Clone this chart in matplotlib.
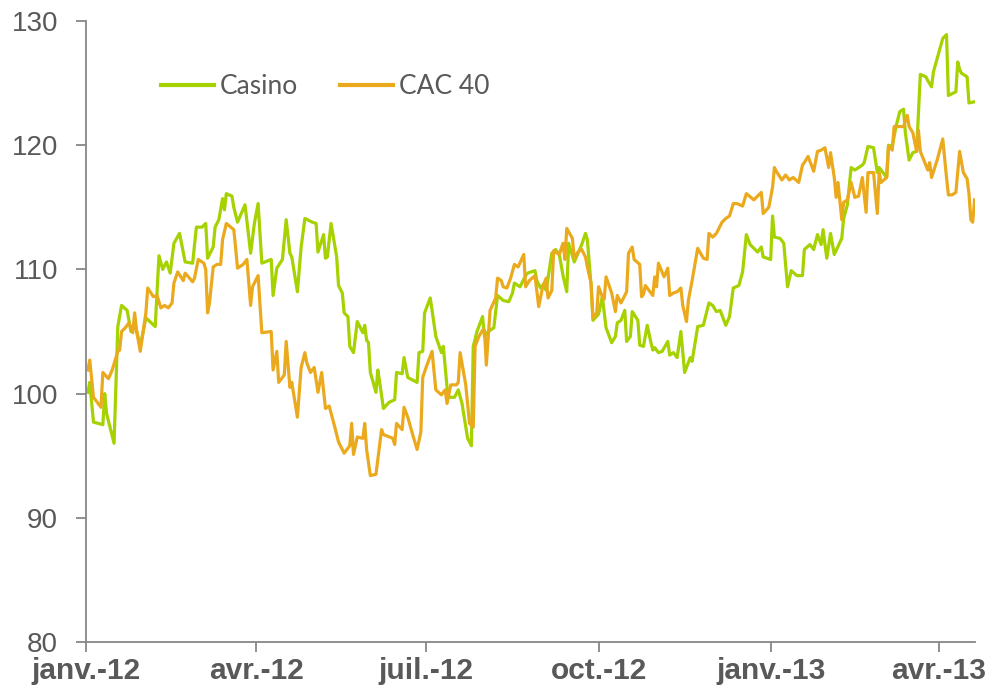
import pandas as pd
import matplotlib
matplotlib.use("Agg")
import matplotlib.pyplot as plt

plt.rcParams["font.family"] = ["Liberation Sans", "DejaVu Sans"]

# base 100 comparison, days counted from 1 Jan 2012
start = pd.Timestamp("2012-01-01")

casino_days = [1, 2, 4, 9, 10, 11, 15, 17, 19, 22, 24, 26, 29, 32, 37, 39, 41, 43, 45, 47,
               50, 53, 57, 59, 62, 64, 65, 68, 69, 71, 73, 74, 75, 78, 79, 81, 85, 88, 90, 92,
               94, 99, 100, 102, 105, 107, 109, 110, 113, 115, 117, 121, 123, 124, 127, 128, 129, 131, 134, 135,
               137, 138, 140, 141, 143, 145, 148, 149, 150, 151, 152, 155, 156, 157, 159, 162, 165, 166, 169, 170,
               172, 177, 178, 180, 181, 184, 185, 187, 190, 191, 193, 194, 197, 199, 201, 204, 206, 207, 209, 212,
               213, 215, 218, 220, 223, 226, 228, 229, 232, 235, 236, 240, 241, 243, 245, 246, 249, 251, 253, 255,
               257, 258, 261, 265, 267, 268, 270, 271, 274, 276, 278, 281, 283, 284, 286, 288, 289, 291, 292, 295,
               296, 298, 300, 302, 303, 304, 306, 308, 311, 312, 314, 316, 318, 320, 323, 324, 327, 330, 333, 335,
               337, 339, 342, 344, 346, 349, 351, 353, 355, 359, 361, 362, 366, 367, 368, 371, 373, 375, 377, 380,
               383, 384, 387, 389, 391, 393, 394, 396, 398, 400, 404, 405, 407, 409, 411, 415, 416, 418, 421, 423,
               424, 428, 429, 431, 433, 435, 437, 438, 440, 442, 444, 446, 449, 450, 452, 453, 458, 460, 461, 465,
               466, 467, 468, 471, 472, 475]
casino_values = [100.1, 100.9, 97.7, 97.5, 100.0, 98.4, 96.0, 105.4, 107.1, 106.7, 105.0, 105.7, 103.8, 106.1, 105.4, 111.1, 110.0, 110.6, 109.7, 112.1,
                 112.9, 110.6, 110.5, 113.4, 113.4, 113.7, 110.9, 111.8, 113.4, 114.0, 115.7, 114.8, 116.1, 115.9, 115.0, 113.8, 115.2, 111.3, 113.7, 115.3,
                 110.5, 110.8, 107.9, 110.1, 110.8, 114.0, 111.3, 111.0, 108.2, 111.8, 114.1, 113.8, 113.7, 111.4, 112.8, 110.9, 111.0, 113.7, 111.0, 108.7,
                 108.1, 106.5, 106.2, 103.8, 103.3, 105.8, 104.9, 105.5, 104.3, 104.1, 101.7, 100.1, 101.9, 100.9, 98.8, 99.3, 99.5, 101.7, 101.6, 102.9,
                 101.3, 100.9, 103.3, 103.4, 106.5, 107.7, 106.7, 104.6, 103.3, 103.8, 100.5, 99.7, 99.7, 100.3, 99.2, 96.4, 95.8, 103.8, 105.0, 106.2,
                 104.6, 105.0, 105.3, 107.9, 107.5, 107.4, 108.1, 108.9, 108.6, 109.5, 109.7, 109.9, 109.1, 108.5, 108.9, 108.3, 111.3, 111.6, 111.2, 109.5,
                 108.2, 112.1, 110.6, 112.0, 112.9, 112.4, 108.7, 105.9, 106.4, 107.8, 105.3, 104.1, 104.6, 105.7, 105.9, 106.7, 104.2, 104.6, 106.6, 105.9,
                 103.9, 103.8, 105.5, 104.1, 103.5, 103.7, 103.3, 103.4, 104.2, 103.1, 103.3, 102.9, 105.0, 101.7, 102.9, 102.6, 105.4, 105.5, 107.3, 107.1,
                 106.6, 106.7, 105.5, 106.2, 108.5, 108.7, 109.8, 112.8, 112.0, 111.4, 111.8, 111.0, 110.8, 114.3, 112.6, 112.5, 112.1, 108.6, 109.9, 109.5,
                 109.5, 111.6, 112.0, 111.6, 112.8, 112.0, 113.2, 110.9, 112.9, 111.2, 112.5, 114.1, 115.2, 118.2, 118.0, 118.4, 118.6, 119.9, 119.8, 117.8,
                 118.2, 117.4, 120.0, 119.9, 121.5, 122.7, 122.9, 121.0, 118.8, 119.4, 119.5, 125.7, 125.5, 125.2, 124.7, 125.9, 128.6, 128.9, 124.0, 124.3,
                 126.7, 126.1, 125.8, 125.5, 123.4, 123.5]

cac_days = [1, 2, 4, 8, 9, 12, 14, 17, 18, 19, 21, 23, 25, 26, 27, 29, 32, 33, 36, 38,
            40, 42, 44, 46, 47, 49, 52, 53, 57, 58, 60, 63, 64, 65, 66, 68, 70, 72, 73, 75,
            79, 80, 81, 84, 86, 88, 89, 92, 94, 99, 100, 102, 103, 106, 107, 109, 110, 113, 115, 117,
            118, 120, 122, 124, 126, 128, 130, 133, 135, 138, 141, 142, 143, 145, 148, 149, 150, 152, 155, 158,
            159, 164, 165, 166, 169, 170, 172, 175, 177, 179, 180, 182, 185, 187, 190, 192, 193, 195, 198, 199,
            200, 203, 205, 207, 208, 210, 212, 213, 214, 216, 219, 220, 222, 223, 225, 227, 229, 231, 234, 235,
            237, 240, 242, 244, 246, 247, 249, 250, 253, 255, 256, 257, 260, 261, 263, 265, 267, 268, 270, 271,
            273, 274, 276, 277, 278, 281, 283, 284, 286, 289, 290, 292, 293, 296, 297, 298, 299, 303, 304, 305,
            306, 309, 311, 312, 314, 316, 318, 319, 321, 322, 324, 327, 330, 332, 333, 335, 337, 340, 342, 344,
            346, 348, 351, 353, 357, 359, 361, 362, 365, 367, 368, 369, 372, 374, 376, 378, 381, 383, 384, 386,
            389, 391, 393, 395, 397, 398, 400, 401, 402, 404, 405, 407, 409, 411, 413, 415, 417, 418, 421, 423,
            424, 425, 428, 429, 431, 432, 435, 437, 439, 440, 442, 444, 445, 446, 450, 451, 452, 455, 458, 460,
            461, 463, 465, 467, 469, 471, 472, 473, 474, 475]
cac_values = [101.9, 102.7, 99.7, 98.9, 101.7, 101.2, 101.9, 103.4, 103.5, 105.0, 105.3, 105.7, 104.9, 106.5, 105.1, 103.4, 106.5, 108.5, 107.8, 107.9,
              106.9, 107.1, 106.9, 107.3, 108.9, 109.8, 109.1, 109.7, 109.0, 109.3, 110.8, 110.5, 110.0, 106.5, 107.3, 110.2, 110.4, 110.4, 112.4, 113.7,
              113.2, 111.7, 110.1, 110.4, 110.8, 107.1, 108.6, 109.5, 104.9, 105.0, 101.9, 103.4, 100.9, 101.5, 104.2, 100.5, 100.9, 98.1, 102.1, 103.3,
              102.5, 101.7, 102.1, 100.1, 101.7, 98.8, 99.0, 97.3, 96.1, 95.2, 95.8, 97.6, 95.1, 96.5, 96.4, 97.6, 95.5, 93.4, 93.5, 97.1,
              96.7, 96.4, 95.9, 97.6, 97.1, 98.9, 98.1, 96.5, 95.5, 96.9, 101.3, 102.2, 103.4, 100.3, 99.9, 100.3, 99.2, 100.7, 100.7, 100.9,
              103.3, 100.7, 97.6, 97.3, 103.8, 104.6, 105.1, 105.1, 102.3, 106.7, 107.7, 109.3, 109.1, 108.6, 108.5, 109.3, 110.4, 110.2, 111.2, 108.6,
              109.1, 109.5, 107.0, 108.5, 109.3, 107.7, 108.3, 111.5, 111.2, 112.1, 110.8, 113.3, 112.5, 110.9, 111.4, 111.6, 111.0, 110.2, 108.9, 106.1,
              106.5, 108.6, 107.8, 107.6, 109.4, 108.1, 106.6, 107.9, 107.3, 108.2, 111.3, 111.8, 110.8, 110.4, 107.8, 108.0, 108.7, 107.9, 109.4, 108.6,
              110.5, 109.4, 110.1, 107.9, 108.1, 108.2, 108.5, 107.1, 105.8, 107.5, 109.1, 111.7, 110.9, 110.8, 112.9, 112.6, 112.9, 113.8, 114.1, 114.3,
              115.3, 115.3, 115.1, 116.1, 115.6, 115.9, 116.2, 114.5, 115.0, 116.6, 118.2, 117.9, 117.2, 117.6, 117.2, 117.4, 117.0, 118.4, 118.6, 119.1,
              117.9, 119.5, 119.6, 119.8, 118.2, 119.4, 117.4, 115.8, 117.0, 114.0, 115.4, 115.6, 117.0, 115.8, 115.9, 117.4, 114.6, 117.8, 117.8, 114.5,
              117.8, 117.0, 117.4, 119.9, 119.6, 121.5, 121.5, 121.5, 122.4, 121.5, 121.0, 119.5, 121.2, 119.5, 118.0, 118.6, 117.4, 118.8, 120.5, 117.4,
              116.0, 116.0, 116.2, 119.5, 117.8, 117.3, 116.1, 114.0, 113.8, 115.6]

tick_dates = ["2012-01-01", "2012-04-01", "2012-07-01", "2012-10-01", "2013-01-01", "2013-04-01"]
tick_labels = ["janv.-12", "avr.-12", "juil.-12", "oct.-12", "janv.-13", "avr.-13"]
y_ticks = [80, 90, 100, 110, 120, 130]

green = "#a5d200"
orange = "#ebaa1e"
grey = "#595959"
axis_grey = "#878787"

fig = plt.figure(figsize=(9.92, 6.93), dpi=100)
ax = fig.add_axes([0.0867, 0.0736, 0.8963, 0.8961])

casino_dates = start + pd.to_timedelta(casino_days, unit="D")
cac_dates = start + pd.to_timedelta(cac_days, unit="D")

ax.plot(casino_dates, casino_values, color=green, lw=2.3, label="Casino", solid_joinstyle="round")
ax.plot(cac_dates, cac_values, color=orange, lw=2.3, label="CAC 40", solid_joinstyle="round")

ax.set_xlim(start, start + pd.Timedelta(days=475.3))
ax.set_ylim(80, 130)

ax.set_yticks(y_ticks)
ax.set_yticklabels([str(v) for v in y_ticks], fontsize=20, color=grey)
ax.set_xticks(pd.to_datetime(tick_dates))
ax.set_xticklabels(tick_labels, fontsize=21.5, fontweight="bold", color=grey)

for side in ["top", "right"]:
    ax.spines[side].set_visible(False)
for side in ["left", "bottom"]:
    ax.spines[side].set_color(axis_grey)
    ax.spines[side].set_linewidth(1.3)

ax.tick_params(axis="y", direction="out", length=7, width=1.3, color=axis_grey, pad=13)
ax.tick_params(axis="x", direction="out", length=7, width=1.3, color=axis_grey, pad=4)

leg = ax.legend(loc="upper left", bbox_to_anchor=(0.058, 0.953), ncol=2, frameon=False,
                handlelength=2.0, handletextpad=0.22, columnspacing=1.6,
                prop={"family": "Lato", "size": 19})
for t in leg.get_texts():
    t.set_color(grey)
for line in leg.get_lines():
    line.set_linewidth(3)

plt.savefig("out.png", dpi=100)
